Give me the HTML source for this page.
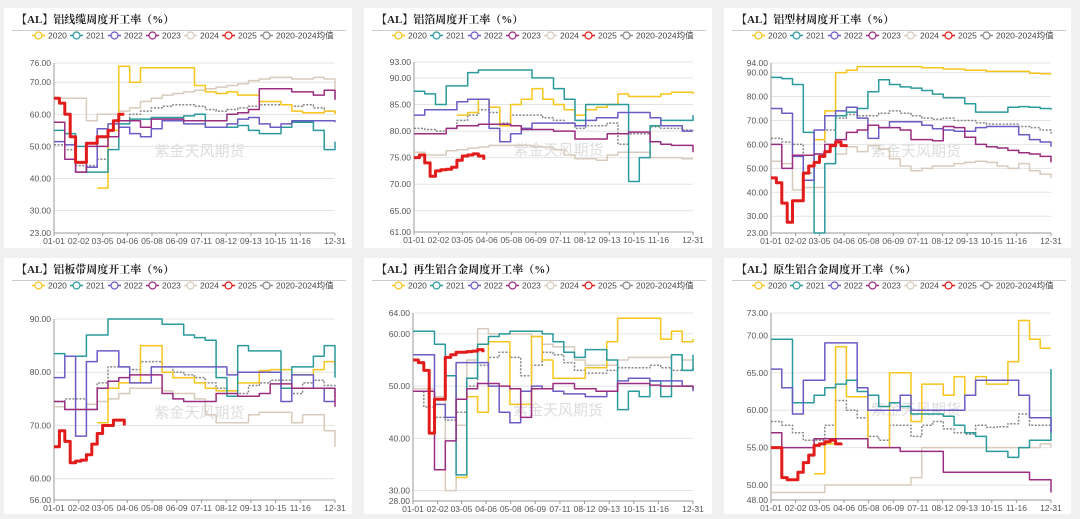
<!DOCTYPE html>
<html><head><meta charset="utf-8">
<style>
html,body{margin:0;padding:0;background:#f0f0f0;}
svg{display:block;font-family:"Liberation Sans","Noto Sans CJK SC",sans-serif;}
.ttl{font-family:"Liberation Serif","Noto Serif CJK SC",serif;font-weight:bold;font-size:11px;fill:#222;}
.tk{font-size:8.5px;fill:#555;}
.lg{font-size:8.5px;fill:#444;}
.wm{font-size:15px;fill:#ddd;}
</style></head>
<body>
<svg id="chart" width="1080" height="519" viewBox="0 0 1080 519"></svg>
<script>
// ---- data (26 fortnightly samples across the year, step lines) ----
const XLABELS=["01-01","02-02","03-05","04-06","05-08","06-09","07-11","08-12","09-13","10-15","11-16","12-31"];
const XLABEL_DAYS=[0,32,63,95,127,159,191,223,255,287,319,364];
const SERIES_NAMES=["2020","2021","2022","2023","2024","2025","2020-2024均值"];
const N=null;

const P1_TICKS=[76,70,60,50,40,30,23];
const P1_2020=[N,N,N,N,37,55,75,70,74.5,74.5,74.5,74.5,74.5,69,67,66.5,67,66,66,64,64,63,61,60.5,60.5,61,60];
const P1_2021=[55,54,50,42,42,49,57,58.5,58.5,59,59,59,59.5,60,56,56,56,56.5,55,54,54,56,57.5,57.5,55,49,51.5];
const P1_2022=[51.5,50.5,42,43.5,55.5,57,56,54,53,55.5,58,58,57,57,56,56,57,58.5,59,57,56,57,58,58,58,58,57.5];
const P1_2023=[57.5,46,42,50,50,53,58,58,56,58.5,58.5,58.5,58,58,58,58,60,60.5,61.5,68,68,68,67,67,66,67.5,64.5];
const P1_2024=[65,65,65,58,60,60,61,62,64,65,66,66.5,67,67.5,68,68.5,69,69.5,70.5,71,71.5,71.5,71,71,71.5,71,65];
const P1_AVG=[50.5,49,44,44,46,53,58,60,61,62,62.5,63,63,62.5,61.5,61,61.5,62,62.5,63,63,63,62.5,63,62,61,60];
const P1_2025=[65,63.5,60,53,45,45,51,51,53,53,55,58,60,60];

const P2_TICKS=[93,90,85,80,75,70,65,61];
const P2_2020=[N,N,N,N,83,83.5,86,84.5,81,85,86,88,86,85,84,83,84,84.5,85,87,86.5,86.5,86.5,87,87.3,87.3,87];
const P2_2021=[87.5,87,85,88.5,88.5,91,91.5,91.5,91.5,91.5,91.5,90,90,88,86,82,85,85,85,85,70.5,75,81,82,82,82,83];
const P2_2022=[83,84,84,84,85.5,86,86,80.5,78,79.5,80.5,81.5,81.5,81.5,81.5,81,82,82.5,82.5,83.5,83.5,83.5,82.5,81,81,80,80];
const P2_2023=[79.5,79.5,79.5,80.5,81,81,81.3,81.3,81.3,81,80.3,80.3,80.3,80,80,78.5,78.5,78.5,79.5,79.5,79.8,79.8,78,77.5,77.3,77.3,76];
const P2_2024=[76,75.5,75.5,76.3,76.5,76.8,77,77.3,77.3,77.3,77.3,77.1,77,76.5,75.5,74.8,74.8,74.5,75.5,76,76,76,75,75,75,74.8,74.8];
const P2_AVG=[80.5,80.3,80,80.5,82,83,84,83.5,81.5,83,83,83,82.5,82,81.5,80.5,81,81,81.5,77.5,79.5,79.5,80.8,80.5,80.5,80.2,80];
const P2_2025=[75,75.5,74,71.5,72.5,72.7,72.8,73.2,74.5,75.3,75.5,75.7,75.3,74.6];

const P3_TICKS=[94,90,80,70,60,50,40,30,23];
const P3_2020=[N,N,N,N,62,74,90,91,92.5,92.5,92.5,92.5,92.5,92.5,92,92,91.5,91.5,91,91,90.5,90.5,90.5,90.5,89.7,89.5,89.5];
const P3_2021=[88,87.5,85,65,23,52,72,73.5,75,82,87,85,84,83.5,82.5,81,79.5,79.5,77,73.5,73.5,73.5,75.5,75.8,75.5,75,74.5];
const P3_2022=[75,73,55,45,66,72,74,75.5,71,62.5,67,69.5,69.5,69.5,68,66.5,66,65.5,65.5,67,67.5,67.5,67.5,64,62,61,59];
const P3_2023=[60,50,55.5,55.5,56,60,62,65,66,68,67,67,66,62,62,61.5,67.5,67,63,60,59,58.5,57.5,56.5,56,55,52.5];
const P3_2024=[53,52,41,42,42,52,56,59,57,59.5,58,54,51,49,50,51,51,52,52.5,53,52.5,51,50,52,49,47.5,46];
const P3_AVG=[62.5,61,60,48,56,66,71,72.5,72,72,73,74,73,72,71,70.5,71,70,70,69,68.5,68.5,68.5,67.5,67,66,64.5];
const P3_2025=[46,44,35.5,27.5,36.5,36.5,48,51,52.5,55,57,59.5,61,59.5,59];

const P4_TICKS=[90,80,70,60,56];
const P4_2020=[N,N,N,N,70.5,77,78,78,85,85,80,79,79,78,77,76.5,76.5,78,78,80.3,80.5,80.5,79.5,79.5,80.5,82,81];
const P4_2021=[83.5,83,83,87,87,90,90,90,90,90,89,89,87,86.5,86,79,75.5,85,84,84,84,77,81,81,83,85,79];
const P4_2022=[79,83,68,82,84,84,81,78,78,81,81,81,81,81,81,81,79.5,80,80,80,80,74.5,79.5,79.5,77,74.5,74.5];
const P4_2023=[74.5,73,73,73,77,78.3,79,79.5,79.5,79.5,76,75,74.5,74.5,74.5,76,76,75.5,75.5,76,77.8,77.8,77,77,77,77,73.5];
const P4_2024=[73.5,73,73,74,74.5,75,76,77,77,77,76.5,76,76,75,72,70.5,70.5,70.5,72,72.5,72.5,72.5,70.5,72,72,69,66];
const P4_AVG=[74.5,75,75,73,78,81,81,80.5,82,82,81,80,79.5,79,78,77,76.5,76,77.5,78,78.5,78.5,76,78,78.5,77.5,75];
const P4_2025=[66,69,67,63,63.3,63.5,64.5,66.5,68.5,70,70,71,71,70];

const P5_TICKS=[64,60,50,40,30,28];
const P5_2020=[N,N,N,N,32.5,48,45,58.5,58.5,46.5,46.5,59.5,55,51.5,51.5,51.5,53.5,53.5,58.5,63,63,63,63,59,60.5,58.5,59];
const P5_2021=[60.5,60.5,58,52,33,51.5,58,59.5,60,60.5,60.5,60.5,60,58.5,56.5,55.5,57,57,55,45.5,49,48,51,48,56,53,56];
const P5_2022=[56,56,46.5,44,54.5,54.5,54.5,50,45,43,49,50,49.5,49,48.5,48.5,48,48,49,51,51.5,51.5,51,51,51,50,49];
const P5_2023=[49,49,34,39.5,47.5,49.5,50.5,50.5,50,49.5,44,49.5,49.5,50.5,50.5,49.5,49.5,49,49,50.5,50.5,50.5,50.2,50,50,50,49.5];
const P5_2024=[49.5,49.5,48,30,42.5,55,61,60,60,60,60,59.5,58,57.5,57.5,55,54,54,54,55,55.5,55.5,55.5,55.5,56,55,55];
const P5_AVG=[49,46,44,43.5,45,50,54,55.5,56.5,55.5,52,54,56.5,56,54.5,53,52.5,52.5,53,53.5,53.5,53.5,54,53.5,53,53,53.5];
const P5_2025=[55,54.5,53,41,47.5,47.5,55.5,56,56.5,56.5,56.6,56.7,57,56.5];

const P6_TICKS=[73,70,65,60,55,50,48];
const P6_2020=[N,N,N,N,51.5,55.5,68.5,61.8,61.8,55,55,65,65,58.5,63.5,63.5,62,64.5,62,64.5,63.5,63.5,66.5,72,69.5,68.3,68.3];
const P6_2021=[69.5,69.5,61,61,62,63,63.5,64,62.5,62,60.5,61,60.5,59.5,59.5,59.5,59.2,58,57,56.5,54.5,54.5,53.7,55,56,56,65.5];
const P6_2022=[65.5,63,59.5,64,64,69,69,69,63,60,60,60,62,60,60,60,60,60,62,64,64,64,64,62,59,59,57];
const P6_2023=[57,55,55,55,56.2,56.2,56.2,56.2,56.2,55,55,55,54.5,54.5,54.5,54.5,51.7,51.7,51.7,51.7,51.7,51.7,51.7,51.7,50.7,50.7,49];
const P6_2024=[49,49,49,49,49,50,50,50,50,50,50,50,50,51,55,55,55,55,55,55,55,55,55,55,55,55.5,55];
const P6_AVG=[58.5,58,57,56,56,58,61.3,60,59,56.5,56,58,58,56.5,58,58.5,57.5,57,56.8,58,57.7,57.8,58.2,59.5,58,58,59];
const P6_2025=[55,55,51,50.7,50.7,51.7,53,54,55.3,55.5,55.8,56,55.5,55.3];

const COLORS=["#f8c51c","#2a9a9c","#6a5cc4","#9a2d80","#d8cbbb","#e21b1b","#888888"];
const PANELS=[
 {title:"【AL】铝线缆周度开工率（%）",name:"cable",px:4,py:8,pw:348,ph:240,x0:54,x1:335,yt:63,yb:233,ticks:P1_TICKS,s:[P1_2020,P1_2021,P1_2022,P1_2023,P1_2024,P1_2025,P1_AVG]},
 {title:"【AL】铝箔周度开工率（%）",name:"foil",px:364,py:8,pw:348,ph:240,x0:414,x1:693,yt:62,yb:232,ticks:P2_TICKS,s:[P2_2020,P2_2021,P2_2022,P2_2023,P2_2024,P2_2025,P2_AVG]},
 {title:"【AL】铝型材周度开工率（%）",name:"profile",px:724,py:8,pw:347,ph:240,x0:771,x1:1051,yt:63,yb:233,ticks:P3_TICKS,s:[P3_2020,P3_2021,P3_2022,P3_2023,P3_2024,P3_2025,P3_AVG]},
 {title:"【AL】铝板带周度开工率（%）",name:"sheet",px:4,py:258,pw:348,ph:256,x0:54,x1:335,yt:319,yb:500,ticks:P4_TICKS,s:[P4_2020,P4_2021,P4_2022,P4_2023,P4_2024,P4_2025,P4_AVG]},
 {title:"【AL】再生铝合金周度开工率（%）",name:"recycled-alloy",px:364,py:258,pw:348,ph:256,x0:413,x1:693,yt:313,yb:501,ticks:P5_TICKS,s:[P5_2020,P5_2021,P5_2022,P5_2023,P5_2024,P5_2025,P5_AVG]},
 {title:"【AL】原生铝合金周度开工率（%）",name:"primary-alloy",px:724,py:258,pw:347,ph:256,x0:771,x1:1051,yt:313,yb:500,ticks:P6_TICKS,s:[P6_2020,P6_2021,P6_2022,P6_2023,P6_2024,P6_2025,P6_AVG]}
];

const NS="http://www.w3.org/2000/svg";
const svg=document.getElementById('chart');
function mk(tag,at,parent){const e=document.createElementNS(NS,tag);for(const k in at)e.setAttribute(k,at[k]);(parent||svg).appendChild(e);return e;}

PANELS.forEach(function(P){
  const g=mk('g',{});
  
  
  const bg=mk('rect',{x:P.px,y:P.py,width:P.pw,height:P.ph,fill:"#fff"},g);
  
  
  const t=mk('text',{x:P.px+12,y:P.py+15,class:"ttl"},g);t.textContent=P.title;
  
  
  mk('line',{x1:P.px+8,x2:P.px+342,y1:P.py+22.5,y2:P.py+22.5,stroke:"#ccc","stroke-width":1},g);
  // legend
  SERIES_NAMES.forEach(function(nm,i){
    const lx=P.px+28+i*38, ly=P.py+27.5;
    const lg=mk('g',{},g);
    
    
    mk('line',{x1:lx,x2:lx+13,y1:ly,y2:ly,stroke:COLORS[i],"stroke-width":1.5},lg);
    mk('circle',{cx:lx+6.5,cy:ly,r:3.5,fill:"#fff",stroke:COLORS[i],"stroke-width":1.2},lg);
    const tx=mk('text',{x:lx+16,y:ly+3,class:"lg"},lg);tx.textContent=nm;
  });
  const ymin=P.ticks[P.ticks.length-1], ymax=P.ticks[0];
  const Y=v=>P.yb-(v-ymin)/(ymax-ymin)*(P.yb-P.yt);
  const X=d=>P.x0+d/364*(P.x1-P.x0);
  // grid + y ticks
  P.ticks.forEach(function(v){
    mk('line',{x1:P.x0,x2:P.x1,y1:Y(v),y2:Y(v),stroke:"#e4e4e4","stroke-width":1},g);
    const tt=mk('text',{x:P.x0-3,y:Y(v)+3,class:"tk","text-anchor":"end"},g);tt.textContent=v.toFixed(2);
    
    
  });
  mk('line',{x1:P.x0,x2:P.x0,y1:P.yt,y2:P.yb,stroke:"#999","stroke-width":1},g);
  mk('line',{x1:P.x0,x2:P.x1,y1:P.yb,y2:P.yb,stroke:"#999","stroke-width":1},g);
  XLABELS.forEach(function(l,i){
    const xx=X(XLABEL_DAYS[i]);
    mk('line',{x1:xx,x2:xx,y1:P.yb,y2:P.yb+3,stroke:"#999"},g);
    const tx=mk('text',{x:xx,y:P.yb+11,class:"tk","text-anchor":"middle"},g);tx.textContent=l;
    
    
  });
  const wm=mk('text',{x:(P.x0+P.x1)/2+5,y:(P.yt+P.yb)/2+8,class:"wm","text-anchor":"middle"},g);wm.textContent="紫金天风期货";
  
  
  // series: draw order 2024, avg, 2020, 2021, 2022, 2023, 2025
  [4,6,0,1,2,3,5].forEach(function(si){
    const arr=P.s[si];
    const step=(si===5)?7:14;
    let d="";let prev=null;
    arr.forEach(function(v,i){
      if(v===null)return;
      const x=X(Math.min(364,i*step)), y=Y(v);
      if(prev===null){d+="M"+x.toFixed(1)+","+y.toFixed(1);}
      else{d+="H"+x.toFixed(1)+"V"+y.toFixed(1);}
      prev=v;
    });
    if(si!==5){d+="H"+X(364).toFixed(1);}
    const p=mk('path',{d:d,fill:"none",stroke:COLORS[si],"stroke-width":si===5?3:1.5,"stroke-dasharray":si===6?"2,1.5":"none","stroke-linejoin":"round"},g);
    
    
  });
});
</script>
</body></html>
